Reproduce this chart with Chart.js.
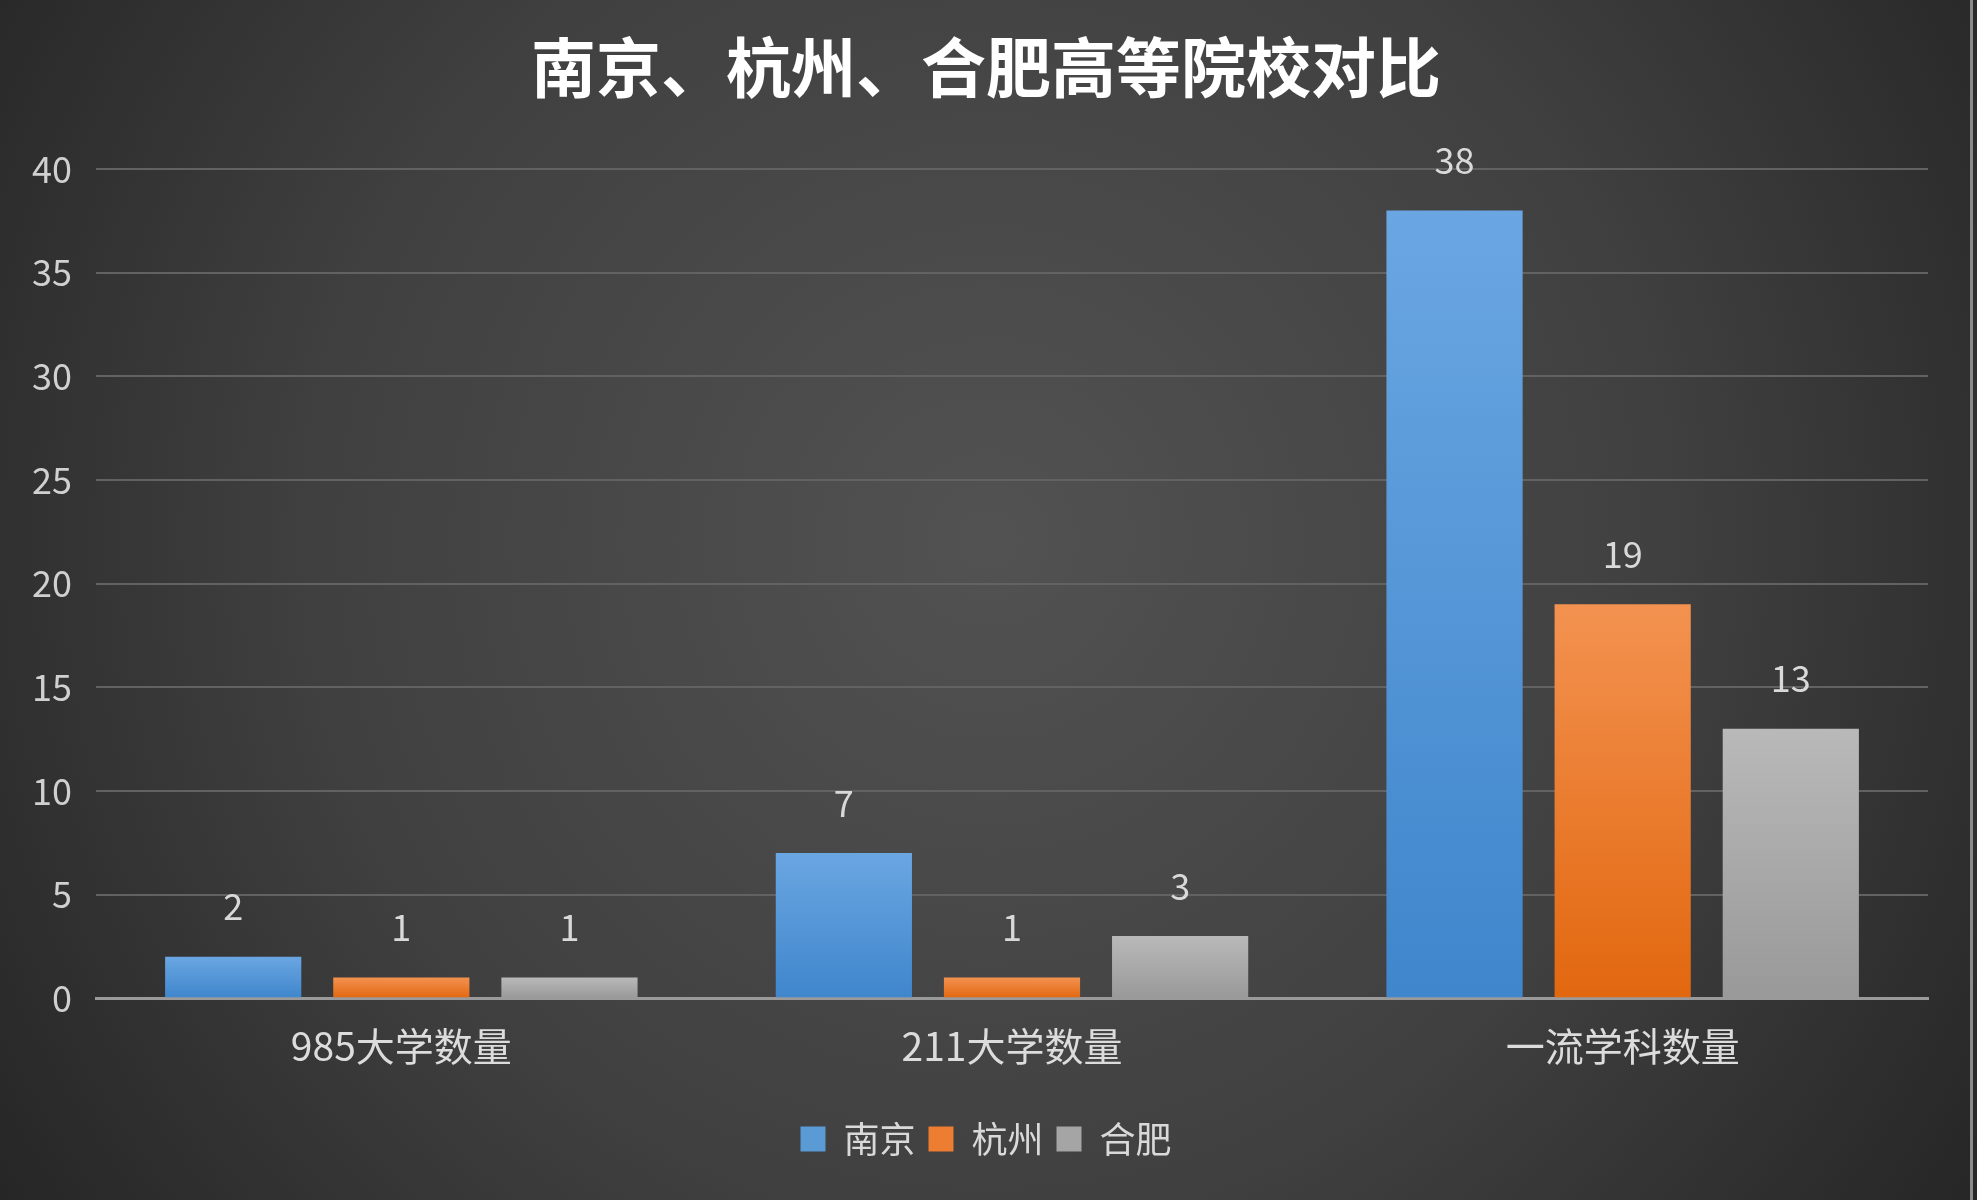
<!DOCTYPE html>
<html>
<head>
<meta charset="utf-8">
<script src="https://cdn.jsdelivr.net/npm/chart.js@4.4.1/dist/chart.umd.min.js"></script>
<style>
  html, body { margin: 0; padding: 0; background: #2a2a2a; }
  #wrap { position: relative; width: 1977px; height: 1200px; }
  #wrap:after { content: ""; position: absolute; top: 0; right: 4px; width: 3px; height: 100%; background: #8a8a8a; }
  canvas { display: block; }
</style>
</head>
<body>
<div id="wrap"><canvas id="c" width="1977" height="1200"></canvas></div>
<script>
const titleText = '南京、杭州、合肥高等院校对比';
const categories = ['985大学数量', '211大学数量', '一流学科数量'];
const seriesNames = ['南京', '杭州', '合肥'];
const nanjing = [2, 7, 38];
const hangzhou = [1, 1, 19];
const hefei = [1, 3, 13];
const yTicks = [0, 5, 10, 15, 20, 25, 30, 35, 40];

const baseColors = ['#5b9bd5', '#ed7d31', '#a5a5a5'];
const gradTop = ['#6aa6e2', '#f39250', '#b9b9b9'];
const gradBottom = ['#3f86cc', '#e2670f', '#999999'];
const FONT = '"Noto Sans CJK SC", "Noto Sans", sans-serif';

function barFill(i) {
  return function (ctx) {
    const chart = ctx.chart;
    if (ctx.type !== 'data' || !chart.chartArea || !chart.scales.y) return baseColors[i];
    const ys = chart.scales.y;
    const top = ys.getPixelForValue(ctx.raw);
    const base = ys.getPixelForValue(0);
    if (!isFinite(top) || !isFinite(base) || Math.abs(base - top) < 1) return baseColors[i];
    const g = chart.ctx.createLinearGradient(0, top, 0, base);
    g.addColorStop(0, gradTop[i]);
    g.addColorStop(1, gradBottom[i]);
    return g;
  };
}

const bgPlugin = {
  id: 'bg',
  beforeDraw(chart) {
    const c = chart.ctx, w = chart.width, h = chart.height;
    c.save();
    const g = c.createRadialGradient(w * 0.5, h * 0.45, 0, w * 0.5, h * 0.45, w * 0.62);
    g.addColorStop(0, '#525252');
    g.addColorStop(0.55, '#404040');
    g.addColorStop(1, '#242424');
    c.fillStyle = g;
    c.fillRect(0, 0, w, h);
    c.restore();
  }
};

// centre title and legend on the whole picture, as in the reference
const centrePlugin = {
  id: 'centreBlocks',
  afterLayout(chart) {
    const shift = 44;
    if (chart.titleBlock) chart.titleBlock.left += shift;
    if (chart.legend) chart.legend.left += shift;
  }
};

const labelPlugin = {
  id: 'valueLabels',
  afterDatasetsDraw(chart) {
    const c = chart.ctx;
    c.save();
    c.font = '36px ' + FONT;
    c.fillStyle = '#d9d9d9';
    c.textAlign = 'center';
    c.textBaseline = 'middle';
    chart.data.datasets.forEach((ds, di) => {
      const meta = chart.getDatasetMeta(di);
      meta.data.forEach((el, i) => {
        c.fillText(String(ds.data[i]), el.x, el.y - 50);
      });
    });
    c.restore();
  }
};

const seriesData = [nanjing, hangzhou, hefei];

new Chart(document.getElementById('c'), {
  type: 'bar',
  data: {
    labels: categories,
    datasets: seriesNames.map((name, i) => ({
      label: name,
      data: seriesData[i],
      backgroundColor: barFill(i),
      borderWidth: 0,
      categoryPercentage: 0.826,
      barPercentage: 0.81
    }))
  },
  options: {
    responsive: false,
    animation: false,
    devicePixelRatio: 1,
    layout: { padding: { left: 0, right: 49, top: 0, bottom: 33 } },
    plugins: {
      title: {
        display: true,
        text: titleText,
        color: '#ffffff',
        font: { family: FONT, size: 65, weight: 'bold' },
        padding: { top: 28, bottom: 63 }
      },
      legend: {
        position: 'bottom',
        labels: {
          color: '#d9d9d9',
          font: { family: FONT, size: 36 },
          boxWidth: 25,
          boxHeight: 25,
          padding: 13,
          generateLabels(chart) {
            return chart.data.datasets.map((ds, i) => ({
              text: ds.label,
              fillStyle: baseColors[i],
              strokeStyle: baseColors[i],
              lineWidth: 0,
              hidden: false,
              datasetIndex: i,
              fontColor: '#d9d9d9'
            }));
          }
        }
      },
      tooltip: { enabled: false }
    },
    scales: {
      x: {
        grid: { display: false, drawTicks: false },
        border: { display: true, color: '#9a9a9a', width: 3 },
        afterFit(scale) { scale.height += 13; },
        ticks: {
          color: '#dcdcdc',
          font: { family: FONT, size: 39 },
          padding: 25,
          maxRotation: 0
        }
      },
      y: {
        min: 0,
        max: 40,
        afterBuildTicks(scale) { scale.ticks = yTicks.map(v => ({ value: v })); },
        afterFit(scale) { scale.width = 96; },
        grid: { color: '#626262', lineWidth: 2, drawTicks: false },
        border: { display: false },
        ticks: {
          color: '#d0d0d0',
          font: { family: FONT, size: 36 },
          padding: 24
        }
      }
    }
  },
  plugins: [bgPlugin, centrePlugin, labelPlugin]
});
</script>
</body>
</html>
